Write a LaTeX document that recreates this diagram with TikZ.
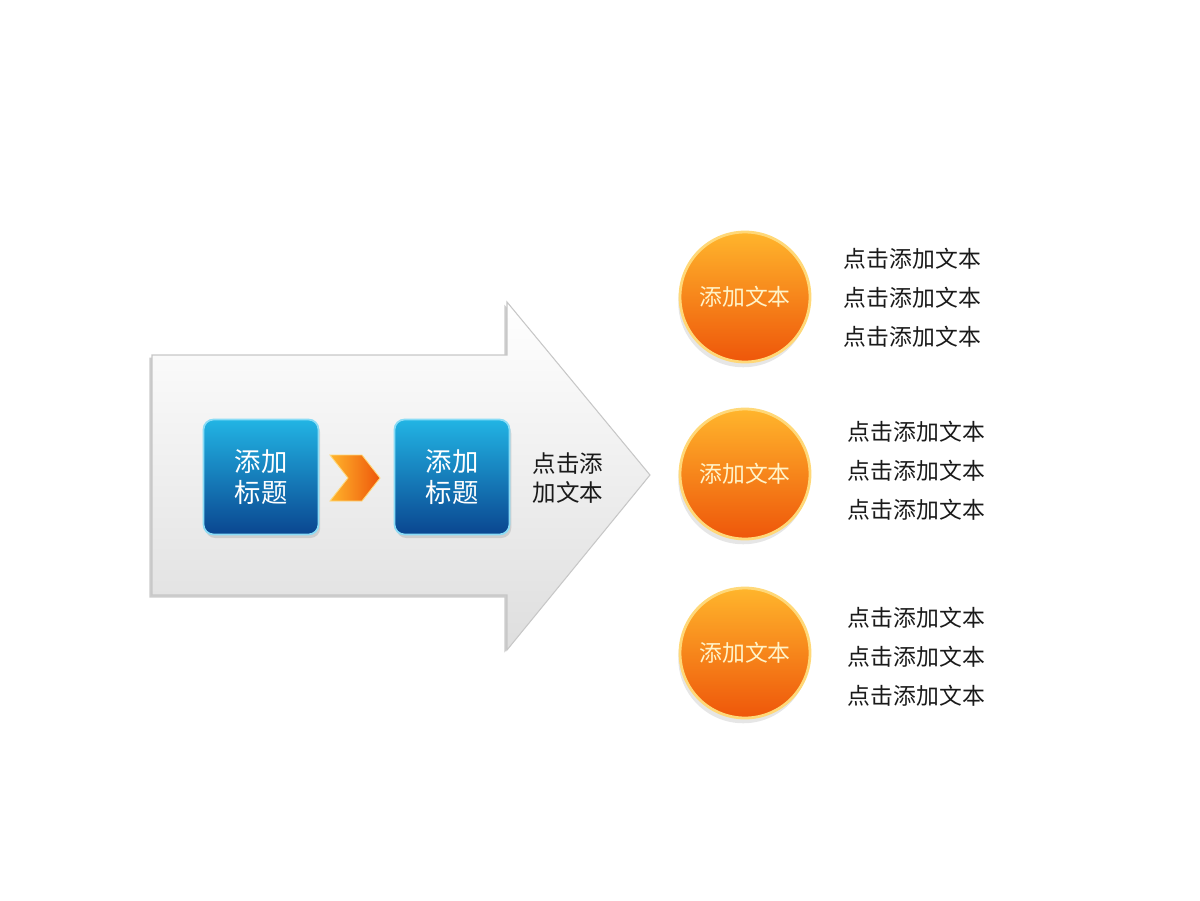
\documentclass[tikz,border=0pt]{standalone}
\usepackage{fontspec}
\setmainfont{Noto Sans CJK SC}
\usetikzlibrary{shadows,positioning}

\definecolor{bluChiaro}{HTML}{22B4E4}
\definecolor{bluScuro}{HTML}{0A4690}
\definecolor{bluBordo}{HTML}{8ADCF6}
\definecolor{aranChiaro}{HTML}{FFB52C}
\definecolor{aranScuro}{HTML}{EE560A}
\definecolor{aranBordo}{HTML}{FFD878}
\definecolor{testoBolla}{HTML}{FFF3C8}
\definecolor{grigioTesto}{HTML}{1A1A1A}

\tikzset{
  titolo/.style={rectangle, rounded corners=0.2cm, minimum width=2.3cm, minimum height=2.3cm,
    inner sep=0pt, align=center, top color=bluChiaro, bottom color=bluScuro, draw=bluBordo,
    line width=1pt, text=white, font=\fontsize{15}{17.5}\selectfont,
    drop shadow={opacity=0.25, shadow xshift=1pt, shadow yshift=-2pt}},
  bolla/.style={circle, minimum size=2.6cm, inner sep=0pt, top color=aranChiaro,
    bottom color=aranScuro, draw=aranBordo, line width=1.6pt, text=testoBolla,
    font=\fontsize{13}{15}\selectfont,
    drop shadow={opacity=0.2, shadow xshift=-1pt, shadow yshift=-3pt}},
  righe/.style={align=left, inner sep=0pt, text=grigioTesto, font=\fontsize{13}{22.3}\selectfont},
}

\begin{document}
\begin{tikzpicture}[x=0.02cm, y=-0.02cm, line width=0.6pt]
    \useasboundingbox (0,0) rectangle (1200,900);

    % Bolla arancione con le sue tre righe di testo
    \def\bolla#1#2#3#4{%
        \node[bolla] (#1) at (745,#2) {添加文本};%
        \node[righe, right=#3 of #1, yshift=#4] (#1-testo) {点击添加文本\\点击添加文本\\点击添加文本};%
    }

    % -- Freccia grande di sfondo --
    \draw[draw=black!22, top color=white, bottom color=black!13,
          general shadow={fill=black!40, opacity=0.5, shadow xshift=-1.5pt, shadow yshift=-1.5pt}]
        (152,355) -- (507,355) -- (507,302) -- (650,475) -- (507,650) -- (507,595) -- (152,595) -- cycle;

    % -- Titoli blu --
    \node[titolo] (tit1) at (261,477) {添加\\标题};
    \node[titolo] (tit2) at (452,477) {添加\\标题};

    % Freccetta arancione tra i due titoli
    \draw[draw=aranBordo, line width=0.5pt, left color=aranChiaro, right color=aranScuro,
          shift={(355,478)}]
        (-25,-23) -- (7,-23) -- (25,0) -- (7,23) -- (-25,23) -- (-7,0) -- cycle;

    \node[align=center, inner sep=0pt, text=grigioTesto, font=\fontsize{13.4}{16.5}\selectfont]
        (nota) at (568,478) {点击添\\加文本};

    % -- Parte Destra: bolle --
    \bolla{b1}{297}{0.64cm}{-0.02cm}
    \bolla{b2}{474}{0.72cm}{0.06cm}
    \bolla{b3}{653}{0.72cm}{-0.08cm}

\end{tikzpicture}
\end{document}
